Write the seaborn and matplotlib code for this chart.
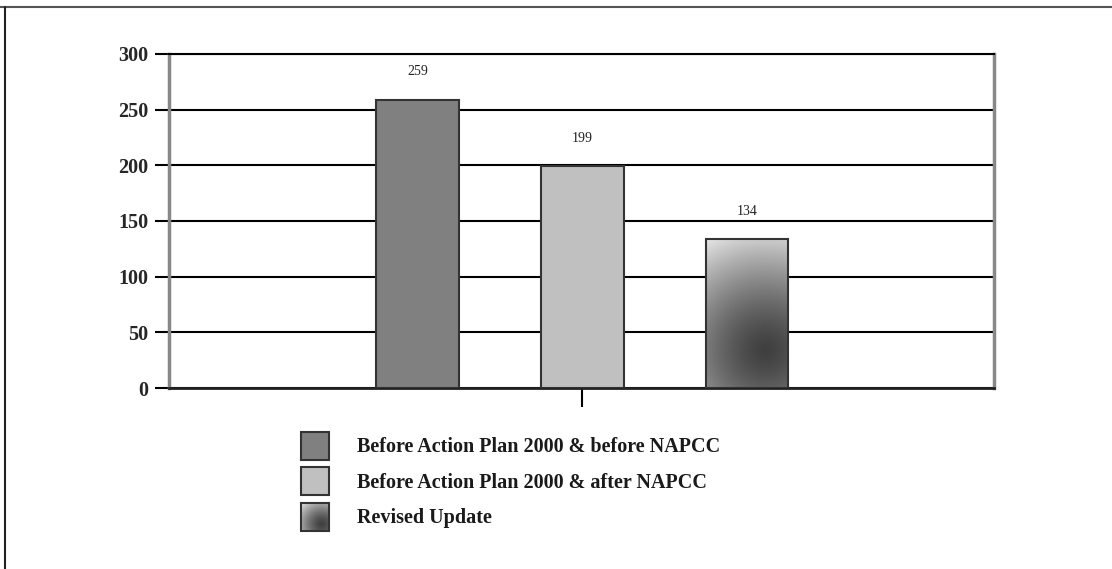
import numpy as np
import pandas as pd
import matplotlib
matplotlib.use("Agg")
import matplotlib.pyplot as plt
import seaborn as sns
from matplotlib.patches import Rectangle
from matplotlib.lines import Line2D
from matplotlib.legend_handler import HandlerPatch
from matplotlib.image import BboxImage
from matplotlib.transforms import Bbox, TransformedBbox

# ---- data ----
categories = ["Before Action Plan 2000 & before NAPCC",
              "Before Action Plan 2000 & after NAPCC",
              "Revised Update"]
values = [259, 199, 134]
value_labels = ["259", "199", "134"]
yticks = [0, 50, 100, 150, 200, 250, 300]
colors = ["#808080", "#c0c0c0", "#707070"]

df = pd.DataFrame({"group": [""] * 3, "series": categories, "value": values})

sns.set_theme(style="white")
plt.rcParams["font.family"] = ["Liberation Serif", "DejaVu Serif"]

fig = plt.figure(figsize=(11.12, 5.69), dpi=100)
ax = fig.add_axes([169 / 1112, 1 - 388 / 569, (994 - 169) / 1112, (388 - 54) / 569])

sns.barplot(data=df, x="group", y="value", hue="series", hue_order=categories,
            palette=colors, gap=0.5, width=0.8, edgecolor="#333333", linewidth=1.5,
            legend=False, ax=ax, zorder=3)

ax.set_ylim(0, 300)
ax.set_xlim(-0.669, 0.666)
ax.set_yticks(yticks)
ax.set_yticklabels([str(t) for t in yticks], fontsize=14.5, fontweight="bold")
ax.set_xticks([0])
ax.set_xticklabels([""])
ax.set_xlabel("")
ax.set_ylabel("")
ax.yaxis.grid(True, color="black", linewidth=1.5, zorder=0)
ax.set_axisbelow(True)
ax.tick_params(axis="y", direction="out", length=10, width=1.5, color="black", pad=5, left=True)
ax.tick_params(axis="x", direction="out", length=14, width=1.5, color="black", bottom=True)

for side in ["left", "right"]:
    ax.spines[side].set_color("#888888")
    ax.spines[side].set_linewidth(2.5)
ax.spines["bottom"].set_color("#222222")
ax.spines["bottom"].set_linewidth(2)
ax.spines["top"].set_color("black")
ax.spines["top"].set_linewidth(1.5)

bars = list(ax.patches)
bars.sort(key=lambda p: p.get_x())


def radial_gradient(wpx, hpx, n=200):
    yy, xx = np.mgrid[0:1:n * 1j, 0:1:n * 1j]
    dx = (xx - 0.72) * wpx
    dy = (yy - 0.25) * hpx
    d = np.sqrt(dx ** 2 + dy ** 2)
    dmax = np.sqrt((0.72 * wpx) ** 2 + (0.75 * hpx) ** 2)
    return 0.25 + 0.66 * np.clip(d / dmax, 0, 1) ** 1.4


b3 = bars[2]
x0, w, h = b3.get_x(), b3.get_width(), b3.get_height()
grad = radial_gradient(83, 149)
im = ax.imshow(grad, extent=[x0, x0 + w, 0, h], origin="lower", cmap="gray",
               vmin=0, vmax=1, aspect="auto", zorder=3.1, interpolation="bilinear")
im.set_clip_path(b3)
b3.set_facecolor("none")
b3.set_zorder(3.2)
ax.set_xlim(-0.669, 0.666)
ax.set_ylim(0, 300)

# value labels
for b, lab in zip(bars, value_labels):
    ax.annotate(lab, (b.get_x() + b.get_width() / 2, b.get_height()),
                xytext=(0, 20), textcoords="offset points", ha="center", va="center",
                fontsize=10, color="#222222")

grad_leg = radial_gradient(28, 28)


class GradientHandler(HandlerPatch):
    def create_artists(self, legend, orig_handle, xdescent, ydescent, width, height, fontsize, trans):
        bb = Bbox.from_bounds(-xdescent, -ydescent, width, height)
        tbb = TransformedBbox(bb, trans)
        img = BboxImage(tbb, cmap="gray", norm=plt.Normalize(0, 1), interpolation="bilinear")
        img.set_data(grad_leg[::-1])
        rect = Rectangle((-xdescent, -ydescent), width, height, facecolor="none",
                         edgecolor="#333333", linewidth=1.5, transform=trans)
        return [img, rect]


handles = [Rectangle((0, 0), 1, 1, facecolor=colors[0], edgecolor="#333333", linewidth=1.5),
           Rectangle((0, 0), 1, 1, facecolor=colors[1], edgecolor="#333333", linewidth=1.5),
           Rectangle((0, 0), 1, 1, facecolor="none", edgecolor="#333333", linewidth=1.5)]
leg = fig.legend(handles, categories, loc="upper left",
                 bbox_to_anchor=(301 / 1112, 1 - 432 / 569),
                 frameon=False, prop={"family": "Liberation Serif", "weight": "bold", "size": 14.5},
                 handlelength=1.4, handleheight=1.75, handletextpad=1.4,
                 labelspacing=0.38, borderpad=0, borderaxespad=0,
                 handler_map={handles[2]: GradientHandler()})
for t in leg.get_texts():
    t.set_color("#1a1a1a")

# page border lines
fig.add_artist(Line2D([0, 1], [1 - 6.5 / 569] * 2, transform=fig.transFigure, color="#555555", linewidth=1.5))
fig.add_artist(Line2D([5 / 1112] * 2, [0, 1 - 6.5 / 569], transform=fig.transFigure, color="#222222", linewidth=1.5))

fig.savefig("out.png", dpi=100)
